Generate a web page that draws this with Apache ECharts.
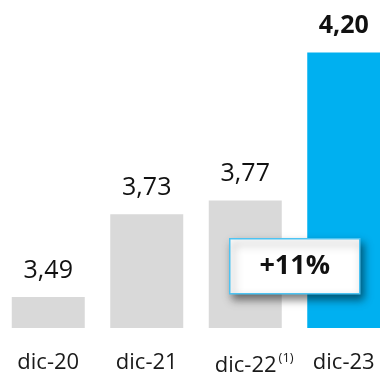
<!DOCTYPE html>
<html>
<head>
<meta charset="utf-8">
<script src="https://cdn.jsdelivr.net/npm/echarts@6/dist/echarts.min.js"></script>
<style>
html,body{margin:0;padding:0;background:#fff;}
#c{width:380px;height:373px;}
</style>
</head>
<body>
<div id="c"></div>
<script>
var categories = ['dic-20', 'dic-21', 'dic-22', 'dic-23'];
var categoryNotes = ['', '', '(1)', ''];
var values = [3.49, 3.73, 3.77, 4.20];
var highlightIndex = 3;
var growthText = '+11%';

var FONT = '"Open Sans", "Noto Sans", sans-serif';

var chart = echarts.init(document.getElementById('c'), null, {renderer: 'canvas'});

var data = values.map(function (v, i) {
  var hi = i === highlightIndex;
  return {
    value: v,
    itemStyle: {color: hi ? '#00B0F0' : '#D9D9D9'},
    label: {fontWeight: hi ? 'bold' : 'normal'}
  };
});

chart.setOption({
  animation: false,
  grid: {left: -1, width: 394, top: 18, bottom: 45, containLabel: false, outerBoundsMode: 'none'},
  xAxis: {
    type: 'category',
    data: categories,
    axisLine: {show: false},
    axisTick: {show: false},
    axisLabel: {
      interval: 0,
      hideOverlap: false,
      margin: 24,
      fontFamily: FONT,
      fontSize: 22,
      color: '#1a1a1a',
      formatter: function (v, i) {
        var n = categoryNotes[i];
        if (n) return '{pad|}' + v + '{sup|' + n + '}';
        return v;
      },
      rich: {
        pad: {width: 18},
        sup: {fontSize: 13, fontFamily: FONT, color: '#1a1a1a', verticalAlign: 'top', padding: [0, 0, 14, 2]}
      }
    }
  },
  yAxis: {
    type: 'value',
    min: 3.40,
    max: 4.30,
    show: false,
    splitLine: {show: false}
  },
  series: [{
    type: 'bar',
    data: data,
    barWidth: 73,
    label: {
      show: true,
      position: 'top',
      distance: 14,
      fontFamily: FONT,
      fontSize: 25,
      color: '#111',
      formatter: function (p) { return p.value.toFixed(2).replace('.', ','); }
    }
  }],
  graphic: [{
    type: 'group',
    left: 229,
    top: 238,
    z: 100,
    children: [{
      type: 'rect',
      z: 100,
      shape: {x: 0, y: 0, width: 130, height: 55},
      style: {
        fill: '#fff',
        stroke: '#4DC3F2',
        lineWidth: 1.5,
        shadowBlur: 8,
        shadowOffsetX: 3,
        shadowOffsetY: 5,
        shadowColor: 'rgba(0,0,0,0.5)'
      }
    }, {
      type: 'text',
      z: 101,
      x: 65,
      y: 28,
      style: {
        text: growthText,
        fontFamily: FONT,
        fontSize: 27,
        fontWeight: 'bold',
        fill: '#111',
        align: 'center',
        verticalAlign: 'middle'
      }
    }]
  }]
});
</script>
</body>
</html>
